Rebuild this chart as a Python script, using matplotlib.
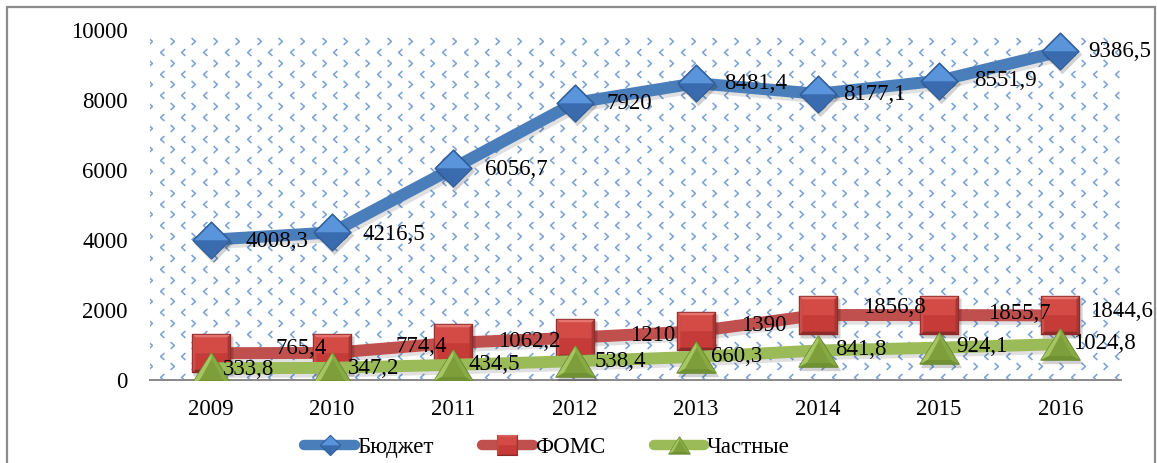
import matplotlib

matplotlib.use("Agg")

import numpy as np
import matplotlib.pyplot as plt
from matplotlib import transforms
from matplotlib.lines import Line2D
from matplotlib.legend_handler import HandlerTuple
from matplotlib.patches import Rectangle
from matplotlib.path import Path


YEARS = ["2009", "2010", "2011", "2012", "2013", "2014", "2015", "2016"]
BUDGET = [4008.3, 4216.5, 6056.7, 7920, 8481.4, 8177.1, 8551.9, 9386.5]
FOMS = [765.4, 774.4, 1062.2, 1210, 1390, 1856.8, 1855.7, 1844.6]
PRIVATE = [333.8, 347.2, 434.5, 538.4, 660.3, 841.8, 924.1, 1024.8]
SERIES_NAMES = ["Бюджет", "ФОМС", "Частные"]
Y_TICKS = [0, 2000, 4000, 6000, 8000, 10000]

# label offsets in pixels (dx, dy) for each point
BUDGET_DX = [35, 30, 32, 32, 28, 26, 35, 28]
BUDGET_DY = [-2, -2, -1, -1, 0, -1, 0, 0]
FOMS_DX = [65, 63, 45, 55, 45, 45, 49, 30]
FOMS_DY = [5, 6, 1, 2, 6, 8, 2, 4]
PRIVATE_DX = [12, 16, 15, 20, 15, 18, 17, 13]
PRIVATE_DY = [-1, -1, 0, 0, 0, 1, 1, 1]

FONT = "Liberation Serif"
FS = 16.5

W, H, DPI = 1157, 463, 100


def fmt(v):
    s = f"{v:.1f}".rstrip("0").rstrip(".")
    return s.replace(".", ",")


def poly(pts):
    # leading lone MOVETO at (1, 1) pins the marker scale so facets keep their relative size
    verts = [(1, 1)] + list(pts) + [pts[0]]
    codes = [Path.MOVETO, Path.MOVETO] + [Path.LINETO] * (len(pts) - 1) + [Path.CLOSEPOLY]
    return Path(verts, codes)


def square(h):
    return poly([(-h, -h), (-h, h), (h, h), (h, -h)])


# marker facets: (path, colour)
DIAMOND = [
    (poly([(-1, 0), (0, 1), (1, 0), (0, -1)]), "#3F74B8"),
    (poly([(-0.92, 0), (0, 0.92), (0.92, 0)]), "#5A94DA"),
    (poly([(-0.92, 0), (0.92, 0), (0, -0.92)]), "#3A6BAE"),
]
SQUARE = [
    (square(1), "#B8403D"),
    (poly([(-1, 1), (1, 1), (0.84, 0.84), (-0.84, 0.84)]), "#E5736E"),
    (poly([(-1, -1), (1, -1), (0.84, -0.84), (-0.84, -0.84)]), "#8E2A28"),
    (poly([(-1, -1), (-1, 1), (-0.84, 0.84), (-0.84, -0.84)]), "#CC4F4B"),
    (poly([(1, -1), (1, 1), (0.84, 0.84), (0.84, -0.84)]), "#A53633"),
    (poly([(-0.84, 0.0), (-0.84, 0.84), (0.84, 0.84), (0.84, 0.0)]), "#D44A45"),
    (poly([(-0.84, -0.84), (-0.84, 0.0), (0.84, 0.0), (0.84, -0.84)]), "#C63B37"),
]
TRIANGLE = [
    (poly([(0, 0.8), (-1, -0.8), (1, -0.8)]), "#8FB24B"),
    (poly([(0, 0.8), (-1, -0.8), (0, -0.27)]), "#A5C662"),
    (poly([(0, 0.8), (1, -0.8), (0, -0.27)]), "#88AA44"),
    (poly([(-1, -0.8), (1, -0.8), (0, -0.27)]), "#6F9033"),
    (poly([(0, 0.5), (-0.6, -0.6), (0.6, -0.6)]), "#7D9E3B"),
]

SERIES = [
    (BUDGET, "#4A7EBB", DIAMOND, 26.5, "#2E5C98", BUDGET_DX, BUDGET_DY),
    (FOMS, "#C0504D", SQUARE, 27, "#8A2A28", FOMS_DX, FOMS_DY),
    (PRIVATE, "#9BBB59", TRIANGLE, 28, "#65852C", PRIVATE_DX, PRIVATE_DY),
]

fig = plt.figure(figsize=(W / DPI, H / DPI), dpi=DPI)
ax_left, ax_right, ax_top, ax_bottom = 150, 1121, 30, 380
ax = fig.add_axes([ax_left / W, 1 - ax_bottom / H, (ax_right - ax_left) / W, (ax_bottom - ax_top) / H])

# outer chart frame
fig.patches.append(Rectangle((7 / W, -0.1), 1148 / W, 1.1 - 7 / H, transform=fig.transFigure,
                             fill=False, edgecolor="#8C8C8C", linewidth=1.6))

x = np.arange(len(YEARS))
ax.set_xlim(-0.5, len(YEARS) - 0.5)
ax.set_ylim(0, 10000)

# dotted chevron fill of the plot area
aw, ah = ax_right - ax_left, ax_bottom - ax_top
step = 21.7
gx = np.arange(0, aw + step, step)
gy = np.arange(step / 2, ah + step, step)
GX, GY = np.meshgrid(gx, gy)
chev_r = Path([(-0.55, 1), (0.55, 0), (-0.55, -1)], [Path.MOVETO, Path.LINETO, Path.LINETO])
chev_l = Path([(0.55, 1), (-0.55, 0), (0.55, -1)], [Path.MOVETO, Path.LINETO, Path.LINETO])
for mk, ox, oy in ((chev_r, 0, 0), (chev_l, -10, 11)):
    ax.plot((GX.ravel() + ox) / aw, 1 - (GY.ravel() + oy) / ah, linestyle="none", marker=mk,
            ms=5.0, mfc="none", mec="#7CA3D8", mew=1.15, transform=ax.transAxes, zorder=0.5)

shadow = transforms.offset_copy(ax.transData, fig=fig, x=2, y=-3, units="dots")

legend_handles = []
z = 2
for values, color, facets, ms, edge, dxs, dys in SERIES:
    ax.plot(x, values, color="#000000", alpha=0.12, lw=9.5, solid_joinstyle="round",
            solid_capstyle="round", transform=shadow, zorder=z)
    ax.plot(x, values, color=color, lw=8.6, solid_joinstyle="round",
            solid_capstyle="round", zorder=z + 0.1)
    ax.plot(x, values, linestyle="none", marker=facets[0][0], ms=ms + 2, mfc="#000000",
            mec="none", alpha=0.18, transform=shadow, zorder=z + 0.2)
    handle = [Line2D([], [], color=color, lw=7.5, solid_capstyle="round")]
    for i, (mk, fc) in enumerate(facets):
        ax.plot(x, values, linestyle="none", marker=mk, ms=ms, mfc=fc,
                mec=edge if i == 0 else "none", mew=1.0, zorder=z + 0.3 + i * 0.01)
        handle.append(Line2D([], [], linestyle="none", marker=mk, ms=ms * 0.55, mfc=fc,
                             mec=edge if i == 0 else "none", mew=0.8))
    legend_handles.append(tuple(handle))
    for xi, v, dx, dy in zip(x, values, dxs, dys):
        ax.annotate(fmt(v), (xi, v), xytext=(dx, dy), textcoords="offset pixels",
                    ha="left", va="center", fontsize=FS, family=FONT, color="black", zorder=20)
    z += 1

ax.set_xticks(x)
ax.set_xticklabels(YEARS)
ax.set_yticks(Y_TICKS)
ax.set_yticklabels([str(t) for t in Y_TICKS])
ax.tick_params(axis="x", length=0, pad=14)
ax.tick_params(axis="y", length=0, pad=16)
for lbl in ax.get_xticklabels() + ax.get_yticklabels():
    lbl.set_fontfamily(FONT)
    lbl.set_fontsize(FS)
for side in ("top", "right", "left"):
    ax.spines[side].set_visible(False)
ax.spines["bottom"].set_color("#8A8A8A")
ax.spines["bottom"].set_linewidth(1.4)
ax.spines["bottom"].set_zorder(1)
ax.patch.set_facecolor("white")

fig.legend(legend_handles, SERIES_NAMES, loc="center", bbox_to_anchor=(547 / W, 16 / H),
           ncol=3, frameon=False, handler_map={tuple: HandlerTuple(ndivide=1, pad=0)},
           handlelength=2.2, handletextpad=0.12, columnspacing=2.1,
           prop={"family": FONT, "size": FS})

fig.savefig("out.png", dpi=DPI)
